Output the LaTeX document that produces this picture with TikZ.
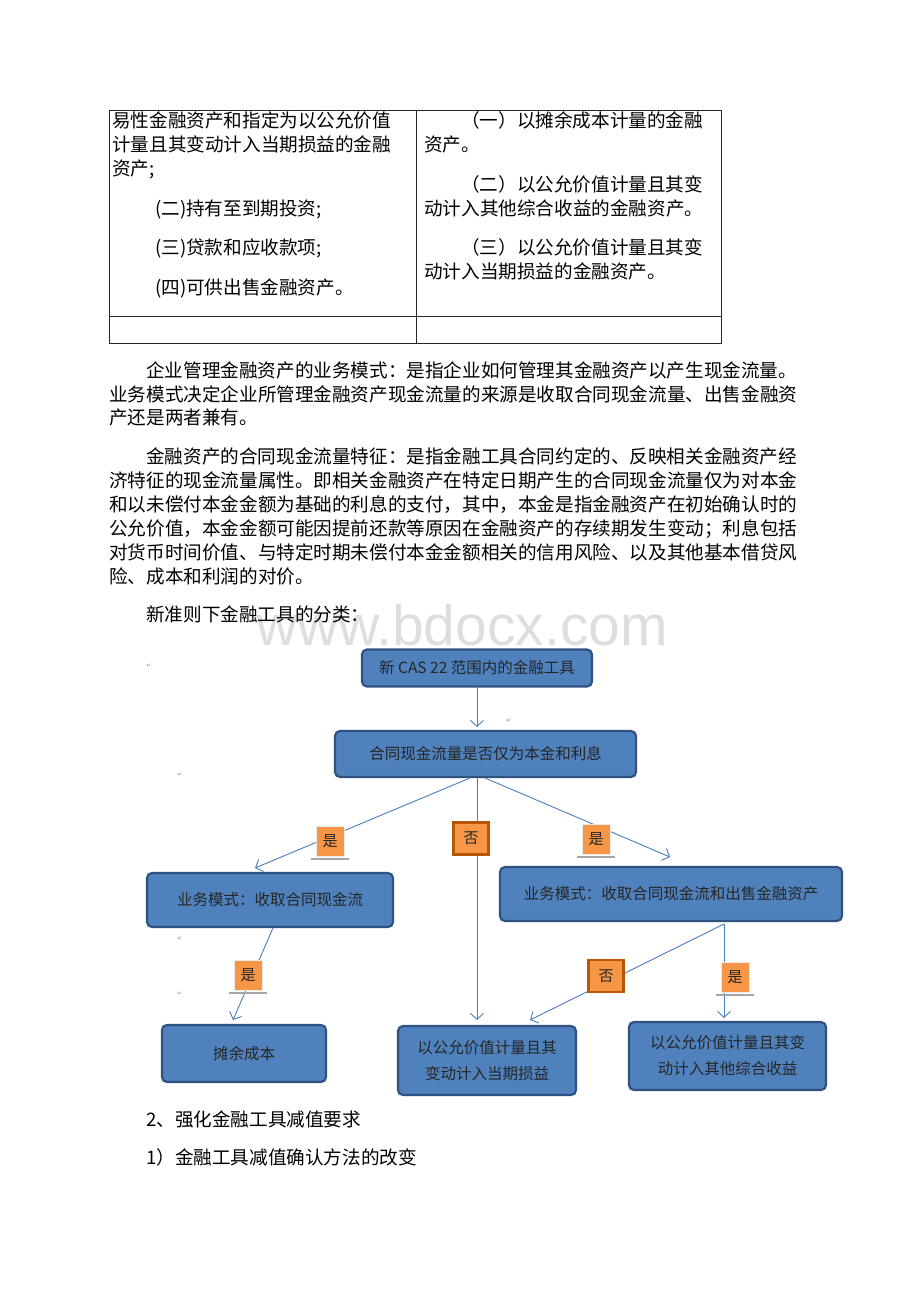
\documentclass[tikz,border=0pt]{standalone}
\usepackage{fontspec}
\setmainfont{Noto Sans CJK SC}
\newfontfamily\wmfont{Liberation Sans}
\newfontfamily\markfont{DejaVu Sans}
\usetikzlibrary{arrows.meta,calc}

\definecolor{boxfill}{HTML}{4F81BD}
\definecolor{boxedge}{HTML}{2F5283}
\definecolor{labfill}{HTML}{F79646}
\definecolor{noedge}{HTML}{B65708}
\definecolor{linkblue}{HTML}{4A7EBB}
\definecolor{ulgray}{HTML}{A5A5A5}

\begin{document}
\begin{tikzpicture}[x=1pt,y=-1pt,
  line/.style={anchor=west, inner sep=0pt, font=\fontsize{18.6}{22}\selectfont,
    text height=0.88em, text depth=0.12em},
  box/.style={draw=boxedge, fill=boxfill, line width=2.2pt, rounded corners=5pt,
    font=\fontsize{15.5}{26}\selectfont, text=black!85, align=center},
  yeslab/.style={fill=labfill, draw=white!92!black, line width=0.6pt,
    minimum width=28, minimum height=30, inner sep=0pt,
    font=\fontsize{15}{18}\selectfont, text=black!85},
  nolab/.style={fill=labfill, draw=noedge, line width=2.6pt,
    minimum width=35, minimum height=32, inner sep=0pt,
    font=\fontsize{15}{18}\selectfont, text=black!85},
  link/.style={draw=linkblue, line width=0.9pt},
  arr/.style={link, -{Straight Barb[length=6pt,width=13pt]}},
  uline/.style={draw=ulgray, line width=2.6pt},
  pmark/.style={font=\markfont\fontsize{6}{6}\selectfont, text=black!45, inner sep=0pt}]
  \useasboundingbox (0,0) rectangle (920,1302);

  % watermark
  \node[font=\wmfont\fontsize{57}{60}\selectfont, text=black!13, anchor=base] (wm) at (462,645) {www.bdocx.com};

  % Table
  \draw[black!85, line width=0.9pt] (109,110) rectangle (721,343);
  \draw[black!85, line width=0.9pt] (416,110) -- (416,343);
  \draw[black!85, line width=0.9pt] (109,316) -- (721,316);

  \node[line] (t1) at (112,124) {易性金融资产和指定为以公允价值};
  \node[line] (t2) at (112,148) {计量且其变动计入当期损益的金融};
  \node[line] (t3) at (112,172) {资产;};
  \node[line] (t4) at (155,212) {(二)持有至到期投资;};
  \node[line] (t5) at (155,251) {(三)贷款和应收款项;};
  \node[line] (t6) at (155,291) {(四)可供出售金融资产。};

  \node[line] (u1) at (461,124) {（一）以摊余成本计量的金融};
  \node[line] (u2) at (424,148) {资产。};
  \node[line] (u3) at (461,188) {（二）以公允价值计量且其变};
  \node[line] (u4) at (424,212) {动计入其他综合收益的金融资产。};
  \node[line] (u5) at (461,251) {（三）以公允价值计量且其变};
  \node[line] (u6) at (424,275) {动计入当期损益的金融资产。};

  % Paragraphs
  \node[line] (p1) at (146,374) {企业管理金融资产的业务模式：是指企业如何管理其金融资产以产生现金流量。};
  \node[line] (p2) at (109,398) {业务模式决定企业所管理金融资产现金流量的来源是收取合同现金流量、出售金融资};
  \node[line] (p3) at (109,421) {产还是两者兼有。};

  \node[line] (q1) at (146,460) {金融资产的合同现金流量特征：是指金融工具合同约定的、反映相关金融资产经};
  \node[line] (q2) at (109,484) {济特征的现金流量属性。即相关金融资产在特定日期产生的合同现金流量仅为对本金};
  \node[line] (q3) at (109,508) {和以未偿付本金金额为基础的利息的支付，其中，本金是指金融资产在初始确认时的};
  \node[line] (q4) at (109,532) {公允价值，本金金额可能因提前还款等原因在金融资产的存续期发生变动；利息包括};
  \node[line] (q5) at (109,556) {对货币时间价值、与特定时期未偿付本金金额相关的信用风险、以及其他基本借贷风};
  \node[line] (q6) at (109,580) {险、成本和利润的对价。};

  \node[line] (r1) at (146,618) {新准则下金融工具的分类：};

  % paragraph marks
  \node[pmark] (m1) at (149,666) {↵};
  \node[pmark] (m2) at (509,721) {↵};
  \node[pmark] (m3) at (180,775) {↵};
  \node[pmark] (m4) at (180,939) {↵};
  \node[pmark] (m5) at (180,994) {↵};

  % Boxes
  \node[box, minimum width=230, minimum height=37] (A) at (477,668) {新 CAS 22 范围内的金融工具};
  \node[box, minimum width=301, minimum height=46] (B) at (485.5,754) {合同现金流量是否仅为本金和利息};
  \node[box, minimum width=246, minimum height=54] (C) at (270,900) {业务模式：收取合同现金流};
  \node[box, minimum width=342, minimum height=54] (D) at (671,894) {业务模式：收取合同现金流和出售金融资产};
  \node[box, minimum width=164, minimum height=57] (E) at (244,1053.5) {摊余成本};
  \node[box, minimum width=178, minimum height=69] (F) at (487,1060.5) {以公允价值计量且其\\变动计入当期损益};
  \node[box, minimum width=197, minimum height=68] (G) at (727.5,1056) {以公允价值计量且其变\\动计入其他综合收益};

  % branch points and arrow tips
  \coordinate (bl) at (470,778);
  \coordinate (bm) at (477,778);
  \coordinate (br) at (485,778);
  \coordinate (tipB) at (477,727);
  \coordinate (tipC) at (255,868);
  \coordinate (tipD) at (670,857);
  \coordinate (tipF) at (477,1020);
  \coordinate (cs) at (273,928);
  \coordinate (tipE) at (233,1020);
  \coordinate (ds) at (724,924);
  \coordinate (tipF2) at (530,1020);
  \coordinate (tipG) at (724,1018);

  % Connectors
  \draw[arr] (A.south -| tipB) -- (tipB);
  \draw[arr] (bl) -- (tipC);
  \draw[arr] (bm) -- (tipF);
  \draw[arr] (br) -- (tipD);
  \draw[arr] (cs) -- (tipE);
  \draw[arr] (ds) -- (tipF2);
  \draw[arr] (ds) -- (tipG);

  % Labels
  \node[yeslab] (y1) at (330,841) {是};
  \node[nolab] (n1) at (471,838.5) {否};
  \node[yeslab] (y2) at (596,839) {是};
  \node[yeslab] (y3) at (248,975) {是};
  \node[nolab] (n2) at (606,976) {否};
  \node[yeslab] (y4) at (735,977) {是};

  \foreach \l in {y1,y2,y3,y4}
    \draw[uline] ($(\l.south west)+(-5,2.5)$) -- ($(\l.south east)+(5,2.5)$);

  % Bottom text
  \node[line] (s1) at (146,1123) {2、强化金融工具减值要求};
  \node[line] (s2) at (146,1161) {1）金融工具减值确认方法的改变};
\end{tikzpicture}
\end{document}
